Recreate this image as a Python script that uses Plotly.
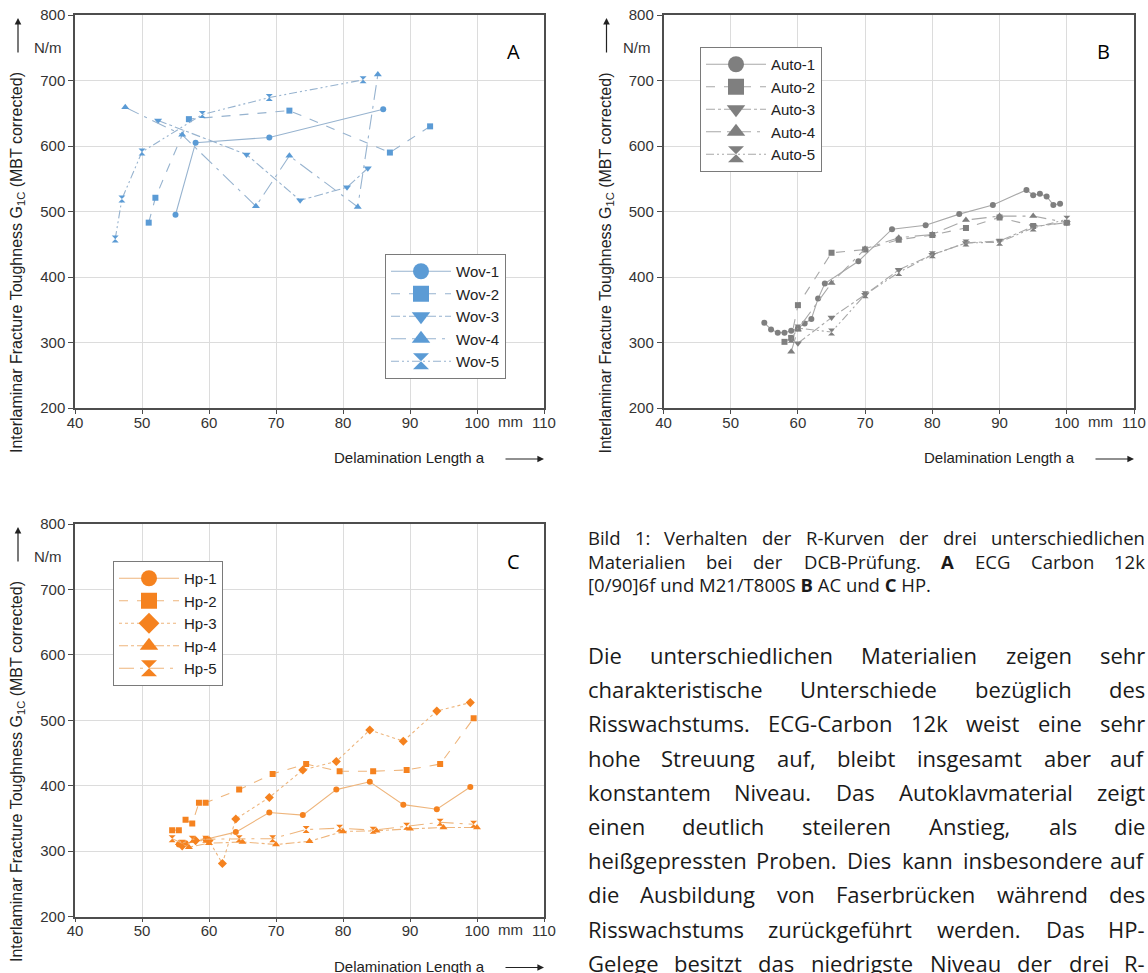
import plotly.graph_objects as go

W, H = 1148, 973

# ---------------- data ----------------
x_ticks = [40, 50, 60, 70, 80, 90, 100, 110]
y_ticks = [200, 300, 400, 500, 600, 700, 800]

wov_names = ["Wov-1", "Wov-2", "Wov-3", "Wov-4", "Wov-5"]
wov1_x = [55, 58, 69, 86]
wov1_y = [495, 605, 613, 656]
wov2_x = [51, 52, 57, 72, 87, 93]
wov2_y = [483, 521, 641, 654, 590, 630]
wov3_x = [52.4, 65.6, 73.6, 80.6, 83.7]
wov3_y = [639, 587, 517, 537, 566]
wov4_x = [47.5, 56, 67, 72, 82.2, 85.2]
wov4_y = [659, 617, 508, 585, 507, 709]
wov5_x = [46, 47, 50, 59, 69, 83]
wov5_y = [458, 519, 591, 648, 674, 701]

auto_names = ["Auto-1", "Auto-2", "Auto-3", "Auto-4", "Auto-5"]
auto1_x = [55, 56, 57, 58, 59, 60, 61, 62, 63, 64, 69, 74, 79, 84, 89, 94, 95, 96, 97, 98, 99]
auto1_y = [330, 320, 315, 315, 318, 322, 329, 336, 367, 390, 424, 473, 479, 496, 510, 533, 525, 527, 523, 510, 512]
auto2_x = [58, 59, 60, 65, 70, 75, 80, 85, 90, 95, 100]
auto2_y = [301, 307, 357, 437, 442, 457, 464, 475, 491, 478, 483]
auto3_x = [60, 65, 70, 75, 80, 85, 90, 95, 100]
auto3_y = [299, 338, 373, 411, 434, 452, 455, 477, 483]
auto4_x = [59, 60, 65, 70, 75, 80, 85, 90, 95, 100]
auto4_y = [286, 320, 391, 443, 460, 465, 487, 493, 493, 483]
auto5_x = [59, 60, 65, 70, 75, 80, 85, 90, 95, 100]
auto5_y = [305, 322, 316, 373, 407, 434, 452, 453, 475, 488]

hp_names = ["Hp-1", "Hp-2", "Hp-3", "Hp-4", "Hp-5"]
hp1_x = [55.5, 56.5, 59.5, 64, 69, 74, 79, 84, 89, 94, 99]
hp1_y = [310, 312, 318, 329, 359, 355, 394, 406, 371, 364, 398]
hp2_x = [54.5, 55.5, 56.5, 57.5, 58.5, 59.5, 64.5, 69.5, 74.5, 79.5, 84.5, 89.5, 94.5, 99.5]
hp2_y = [332, 332, 348, 342, 374, 374, 394, 418, 433, 422, 422, 424, 433, 503]
hp3_x = [56, 58, 60, 62, 64, 69, 74, 79, 84, 89, 94, 99]
hp3_y = [308, 316, 316, 281, 349, 382, 424, 437, 485, 468, 514, 527]
hp4_x = [55.5, 57, 60, 65, 70, 75, 80, 85, 90, 95, 100]
hp4_y = [312, 306, 312, 314, 310, 315, 330, 331, 334, 336, 336]
hp5_x = [54.5, 56, 57.5, 59.5, 64.5, 69.5, 74.5, 79.5, 84.5, 89.5, 94.5, 99.5]
hp5_y = [319, 312, 318, 318, 319, 319, 333, 335, 332, 338, 344, 341]

caption_lines = [
    "Bild 1: Verhalten der R-Kurven der drei unterschiedlichen",
    "Materialien bei der DCB-Prüfung. <b>A</b> ECG Carbon 12k",
    "[0/90]6f und M21/T800S <b>B</b> AC und <b>C</b> HP.",
]
paragraph_lines = [
    "Die unterschiedlichen Materialien zeigen sehr",
    "charakteristische Unterschiede bezüglich des",
    "Risswachstums. ECG-Carbon 12k weist eine sehr",
    "hohe Streuung auf, bleibt insgesamt aber auf",
    "konstantem Niveau. Das Autoklavmaterial zeigt",
    "einen deutlich steileren Anstieg, als die",
    "heißgepressten Proben. Dies kann insbesondere auf",
    "die Ausbildung von Faserbrücken während des",
    "Risswachstums zurückgeführt werden. Das HP-",
    "Gelege besitzt das niedrigste Niveau der drei R-",
]

# ---------------- helpers ----------------
def px(x):
    return x / W


def py(y):
    return 1 - y / H


CHART_FONT = "Liberation Sans, Arial, sans-serif"
TEXT_FONT = "Open Sans, sans-serif"

fig = go.Figure()

symbols_ab = ["circle", "square", "triangle-down", "triangle-up", "hourglass"]
dashes_ab = ["solid", "dash", "dashdot", "longdashdot", "8px,3px,2px,3px,2px,3px"]
symbols_c = ["circle", "square", "diamond", "triangle-up", "hourglass"]
dashes_c = ["solid", "dash", "dot", "dashdot", "longdashdot"]
sizes = {"circle": 6, "square": 6, "triangle-down": 7, "triangle-up": 7, "hourglass": 7, "diamond": 7}

panels = [
    dict(names=wov_names, xs=[wov1_x, wov2_x, wov3_x, wov4_x, wov5_x],
         ys=[wov1_y, wov2_y, wov3_y, wov4_y, wov5_y], xa="x", ya="y", leg="legend",
         mc="#5b9bd5", lc="#97b3cf", sym=symbols_ab, dash=dashes_ab),
    dict(names=auto_names, xs=[auto1_x, auto2_x, auto3_x, auto4_x, auto5_x],
         ys=[auto1_y, auto2_y, auto3_y, auto4_y, auto5_y], xa="x2", ya="y2", leg="legend2",
         mc="#7f7f7f", lc="#a8a8a8", sym=symbols_ab, dash=dashes_ab),
    dict(names=hp_names, xs=[hp1_x, hp2_x, hp3_x, hp4_x, hp5_x],
         ys=[hp1_y, hp2_y, hp3_y, hp4_y, hp5_y], xa="x3", ya="y3", leg="legend3",
         mc="#f5821f", lc="#eeb57c", sym=symbols_c, dash=dashes_c),
]

for p in panels:
    for i, name in enumerate(p["names"]):
        fig.add_trace(go.Scatter(
            x=p["xs"][i], y=p["ys"][i], mode="lines+markers", xaxis=p["xa"], yaxis=p["ya"],
            showlegend=False, hoverinfo="skip",
            line=dict(color=p["lc"], width=1.1, dash=p["dash"][i]),
            marker=dict(symbol=p["sym"][i], size=sizes[p["sym"][i]], color=p["mc"], line=dict(width=0)),
        ))
        fig.add_trace(go.Scatter(
            x=[None], y=[None], mode="lines+markers", xaxis=p["xa"], yaxis=p["ya"],
            name=name, legend=p["leg"], legendgroup=name, showlegend=True,
            line=dict(color=p["lc"], width=1.1, dash=p["dash"][i]),
            marker=dict(symbol=p["sym"][i], size=16, color=p["mc"], line=dict(width=0)),
        ))

axis_font = dict(family=CHART_FONT, size=15, color="#333333")
xa = dict(range=[40, 110], tickvals=x_ticks, showgrid=True, gridcolor="#dcdcdc", gridwidth=1,
          showline=True, linecolor="#4d4d4d", linewidth=1.5, mirror=True, ticks="outside",
          ticklen=4, tickcolor="#4d4d4d", tickfont=axis_font, zeroline=False, fixedrange=True,
          automargin=False, ticklabelstandoff=-4)
ya = dict(range=[200, 800], tickvals=y_ticks, showgrid=True, gridcolor="#dcdcdc", gridwidth=1,
          showline=True, linecolor="#4d4d4d", linewidth=1.5, mirror=True, ticks="outside",
          ticklen=5, tickcolor="#4d4d4d", tickfont=axis_font, zeroline=False, fixedrange=True,
          automargin=False)

legend_common = dict(xanchor="left", yanchor="top", bgcolor="white", bordercolor="#7a7a7a",
                     borderwidth=1, font=dict(family=CHART_FONT, size=15, color="#222222"),
                     itemwidth=60, tracegroupgap=0, itemsizing="trace", itemclick=False)

# panel geometry (pixels)
A = dict(x0=75, x1=544, y0=15, y1=408)
B = dict(x0=663.5, x1=1134, y0=15, y1=408)
C = dict(x0=75, x1=544, y0=524, y1=916.5)

fig.update_layout(
    width=W, height=H, margin=dict(l=0, r=0, t=0, b=0, autoexpand=False),
    paper_bgcolor="white", plot_bgcolor="white", showlegend=True,
    xaxis=dict(xa, domain=[px(A["x0"]), px(A["x1"])], anchor="y"),
    yaxis=dict(ya, domain=[py(A["y1"]), py(A["y0"])], anchor="x"),
    xaxis2=dict(xa, domain=[px(B["x0"]), px(B["x1"])], anchor="y2"),
    yaxis2=dict(ya, domain=[py(B["y1"]), py(B["y0"])], anchor="x2"),
    xaxis3=dict(xa, domain=[px(C["x0"]), px(C["x1"])], anchor="y3"),
    yaxis3=dict(ya, domain=[py(C["y1"]), py(C["y0"])], anchor="x3"),
    legend=dict(legend_common, x=px(385), y=py(254)),
    legend2=dict(legend_common, x=px(700), y=py(47)),
    legend3=dict(legend_common, x=px(113), y=py(561)),
)

ann = []
ytitle = "Interlaminar Fracture Toughness G<sub>1C</sub> (MBT corrected)"
for P, letter in ((A, "A"), (B, "B"), (C, "C")):
    x0, x1, y0, y1 = P["x0"], P["x1"], P["y0"], P["y1"]
    # y title
    ann.append(dict(text=ytitle, x=px(x0 - 58), y=py(y0 + 248), xref="paper", yref="paper",
                    textangle=-90, showarrow=False, xanchor="center", yanchor="middle",
                    font=dict(family=CHART_FONT, size=16, color="#222222")))
    # up arrow
    ann.append(dict(text="", x=px(x0 - 57), y=py(y0 + 3), ax=0, ay=36, xref="paper", yref="paper",
                    showarrow=True, arrowhead=2, arrowsize=1.1, arrowwidth=1.2, arrowcolor="#222222"))
    # N/m
    ann.append(dict(text="N/m", x=px(x0 - 11), y=py(y0 + 32), xref="paper", yref="paper",
                    showarrow=False, xanchor="right", yanchor="middle", font=axis_font))
    # mm
    ann.append(dict(text="mm", x=px(x0 + (x1 - x0) * 65 / 70), y=py(y1 + 13), xref="paper", yref="paper",
                    showarrow=False, xanchor="center", yanchor="middle", font=axis_font))
    # x title
    ann.append(dict(text="Delamination Length a", x=px(x1 - 57), y=py(y1 + 50), xref="paper", yref="paper",
                    showarrow=False, xanchor="right", yanchor="middle",
                    font=dict(family=CHART_FONT, size=15, color="#222222")))
    ann.append(dict(text="", x=px(x1), y=py(y1 + 51), ax=-40, ay=0, xref="paper", yref="paper",
                    showarrow=True, arrowhead=2, arrowsize=1.1, arrowwidth=1.2, arrowcolor="#222222"))
    # letter
    ann.append(dict(text=letter, x=px(x1 - 31), y=py(y0 + 37), xref="paper", yref="paper",
                    showarrow=False, xanchor="center", yanchor="middle",
                    font=dict(family=TEXT_FONT, size=20, color="#000000")))

# ---------- justified text ----------
OS = {
    'a': .556, 'b': .613, 'c': .48, 'd': .613, 'e': .561, 'f': .336, 'g': .546, 'h': .614, 'i': .258,
    'j': .258, 'k': .525, 'l': .258, 'm': .932, 'n': .614, 'o': .602, 'p': .613, 'q': .613, 'r': .408,
    's': .477, 't': .353, 'u': .614, 'v': .501, 'w': .775, 'x': .523, 'y': .501, 'z': .468, 'ü': .614,
    'ß': .63, 'ä': .556, 'A': .633, 'B': .647, 'C': .631, 'D': .729, 'E': .556, 'F': .516, 'G': .728,
    'H': .738, 'I': .279, 'K': .614, 'M': .907, 'N': .764, 'P': .603, 'R': .618, 'S': .549, 'T': .553,
    'U': .728, 'V': .593, '.': .266, ',': .25, ':': .266, '-': .322, '[': .3, ']': .3, '/': .371,
}


def wwidth(word, fs):
    plain = word.replace("<b>", "").replace("</b>", "")
    return sum(OS.get(c, .572 if c.isdigit() else .56) for c in plain) * fs


def justify(line, y, fs, xl=587, xr=1146, just=True):
    words = line.split(" ")
    font = dict(family=TEXT_FONT, size=fs, color="#1a1a1a")
    if not just:
        ann.append(dict(text=line, x=px(xl), y=py(y), xref="paper", yref="paper", showarrow=False,
                        xanchor="left", yanchor="middle", borderpad=0, font=font))
        return
    ws = [wwidth(w, fs) for w in words]
    gap = (xr - xl - sum(ws)) / (len(words) - 1)
    cur = xl
    for i, w in enumerate(words):
        if i == 0:
            xx, anc = xl, "left"
        elif i == len(words) - 1:
            xx, anc = xr, "right"
        else:
            xx, anc = cur + ws[i] / 2, "center"
        ann.append(dict(text=w, x=px(xx), y=py(y), xref="paper", yref="paper", showarrow=False,
                        xanchor=anc, yanchor="middle", borderpad=0, font=font))
        cur += ws[i] + gap


cap_y = [537, 561, 584]
for i, line in enumerate(caption_lines):
    justify(line, cap_y[i], 18.5, just=(i < 2))
for i, line in enumerate(paragraph_lines):
    justify(line, 655 + i * 34.2, 22)

fig.update_layout(annotations=ann)
fig.write_html("out.html")
